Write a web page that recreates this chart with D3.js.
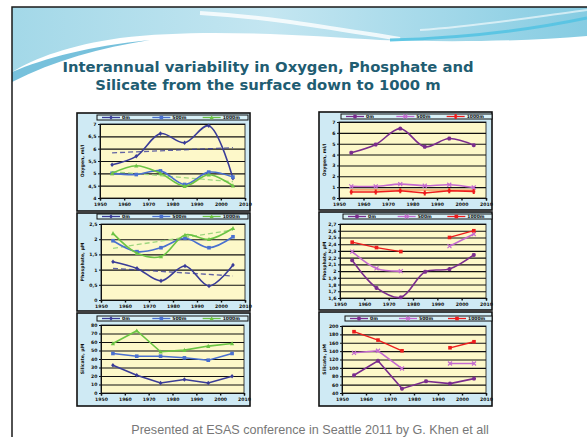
<!DOCTYPE html>
<html><head><meta charset="utf-8">
<script src="https://cdn.jsdelivr.net/npm/d3@7"></script>
<style>html,body{margin:0;padding:0;background:#fff;} svg{display:block}</style>
</head><body>
<svg id="c" width="587" height="437"></svg>
<script>
// ---------- DATA ----------
const years = [1955, 1965, 1975, 1985, 1995, 2005];
const trendYears = [1955, 2005];
const xTickYears = [1950, 1960, 1970, 1980, 1990, 2000, 2010];
const legendLeft = ["0m", "500m", "1000m"];
const legendRight = ["0m", "500m", "1000m"];

// Left column – Oxygen, ml/l
const oxyL0 = [5.35, 5.69, 6.61, 6.24, 6.93, 4.80];
const oxyL1 = [5.00, 4.95, 5.10, 4.55, 5.05, 4.85];
const oxyL2 = [5.00, 5.31, 5.00, 4.48, 4.94, 4.50];
const oxyL0Trend = [5.83, 6.04];
const oxyL2Trend = [5.07, 4.66];
const oxyLTicks = [4, 4.5, 5, 5.5, 6, 6.5, 7];

// Left column – Phosphate, µM
const phoL0 = [1.26, 1.04, 0.63, 1.12, 0.46, 1.15];
const phoL1 = [1.95, 1.59, 1.72, 2.03, 1.72, 2.08];
const phoL2 = [2.19, 1.54, 1.43, 2.14, 2.00, 2.36];
const phoL0Trend = [1.04, 0.79];
const phoL2Trend = [1.70, 2.30];
const phoLTicks = [0, 0.5, 1, 1.5, 2, 2.5];

// Left column – Silicate, µM
const silL0 = [32.7, 20.9, 11.8, 15.8, 11.8, 19.7];
const silL1 = [46.5, 43.3, 43.3, 41.4, 38.6, 46.5];
const silL2 = [58.3, 73.3, 48.5, 50.4, 55.2, 58.3];
const silLTicks = [0, 10, 20, 30, 40, 50, 60, 70, 80];

// Right column – Oxygen, ml/l
const oxyR0 = [4.17, 4.93, 6.39, 4.72, 5.48, 4.87];
const oxyR1 = [1.07, 1.07, 1.28, 1.13, 1.22, 0.97];
const oxyR2 = [0.55, 0.55, 0.67, 0.46, 0.67, 0.61];
const oxyR2Trend = [0.74, 0.72];
const oxyRTicks = [0, 1, 2, 3, 4, 5, 6, 7];

// Right column – Phosphate, µM
const phoR0 = [2.16, 1.75, 1.61, 1.99, 2.03, 2.24];
const phoR1 = [2.29, 2.04, 2.00, null, 2.37, 2.55];
const phoR2 = [2.43, 2.35, 2.29, null, 2.50, 2.60];
const phoRTicks = [1.6, 1.7, 1.8, 1.9, 2.0, 2.1, 2.2, 2.3, 2.4, 2.5, 2.6, 2.7];

// Right column – Silicate, µM
const silR0 = [82.4, 116.8, 50.4, 68.0, 62.4, 74.4];
const silR1 = [136.0, 140.8, 98.4, null, 110.4, 110.4];
const silR2 = [186.4, 166.4, 140.8, null, 148.0, 162.4];
const silRTicks = [40, 60, 80, 100, 120, 140, 160, 180, 200];

const titleLines = ["Interannual variability in Oxygen, Phosphate and", "Silicate from the surface down to 1000 m"];
const footer = "Presented at ESAS conference in Seattle 2011 by G. Khen et all";

// ---------- STYLE ----------
const C = {navy:"#3a3c98", blue:"#4a70d0", green:"#6cc444", purple:"#7b2c8e", orchid:"#c46ad0", red:"#ee1c1c", orange:"#f39050"};
const fmt = v => String(+v.toFixed(2)).replace(".", ",");

const svg = d3.select("#c");

// ---------- BACKGROUND ----------
const defs = svg.append("defs");
const g1 = defs.append("linearGradient").attr("id","sky").attr("x1",0).attr("x2",1).attr("y1",0).attr("y2",0);
g1.append("stop").attr("offset","0%").attr("stop-color","#a3d8e8");
g1.append("stop").attr("offset","45%").attr("stop-color","#c4e6f1");
g1.append("stop").attr("offset","100%").attr("stop-color","#86cce2");
svg.append("rect").attr("width",587).attr("height",437).attr("fill","#fff");
svg.append("path").attr("fill","url(#sky)")
  .attr("d","M12,7 H587 V36 C520,42 440,42 380,40 C300,35 200,28 120,38 C70,45 35,58 12,72 Z");
svg.append("path").attr("fill","#5fb6d6").attr("opacity",0.85)
  .attr("d","M12,72 C45,58 90,46 150,40 C100,48 55,60 12,82 Z");
svg.append("path").attr("fill","none").attr("stroke","#ffffff").attr("stroke-width",4).attr("opacity",0.8)
  .attr("d","M200,13 C270,17 330,28 400,39");
svg.append("path").attr("fill","none").attr("stroke","#55c3e2").attr("stroke-width",3).attr("opacity",0.9)
  .attr("d","M390,40 C470,38 530,30 587,18");
svg.append("path").attr("fill","none").attr("stroke","#ffffff").attr("stroke-width",2).attr("opacity",0.6)
  .attr("d","M420,30 C480,26 540,16 587,10");
svg.append("rect").attr("x",12).attr("y",7).attr("width",600).attr("height",440)
  .attr("fill","none").attr("stroke","#1a1a1a").attr("stroke-width",1.5);

// Title
svg.selectAll("text.title").data(titleLines).join("text").attr("class","title")
  .attr("x",268).attr("y",(d,i)=>72+i*18).attr("text-anchor","middle")
  .attr("font-family","DejaVu Sans, sans-serif").attr("font-weight","bold").attr("font-size",14.8)
  .attr("fill","#1f5d72").text(d=>d);

svg.append("text").attr("x",310).attr("y",434).attr("text-anchor","middle")
  .attr("font-family","Liberation Sans, Arial, sans-serif").attr("font-size",12.6).attr("fill","#777").text(footer);

// ---------- PANELS ----------
function marker(g, type, x, y, color){
  const s = 1.8;
  if(type==="diamond") g.append("path").attr("d",`M${x},${y-s-0.5}L${x+s},${y}L${x},${y+s+0.5}L${x-s},${y}Z`).attr("fill",color);
  else if(type==="square") g.append("rect").attr("x",x-s).attr("y",y-s).attr("width",2*s).attr("height",2*s).attr("fill",color);
  else if(type==="triangle") g.append("path").attr("d",`M${x},${y-s-0.5}L${x+s+0.3},${y+s}L${x-s-0.3},${y+s}Z`).attr("fill",color);
  else if(type==="star") g.append("path").attr("d",`M${x-2},${y}H${x+2}M${x},${y-2}V${y+2}M${x-1.5},${y-1.5}L${x+1.5},${y+1.5}M${x+1.5},${y-1.5}L${x-1.5},${y+1.5}`).attr("stroke",color).attr("stroke-width",1.2);
  else if(type==="x") g.append("path").attr("d",`M${x-2},${y-2}L${x+2},${y+2}M${x+2},${y-2}L${x-2},${y+2}`).attr("stroke",color).attr("stroke-width",1.2);
  else if(type==="plus") g.append("path").attr("d",`M${x},${y-2.5}V${y+2.5}M${x-1.5},${y}H${x+1.5}`).attr("stroke",color).attr("stroke-width",2);
}

function panel(cfg){
  const g = svg.append("g");
  const [bx0,by0,bx1,by1] = cfg.box;
  g.append("rect").attr("x",bx0).attr("y",by0).attr("width",bx1-bx0).attr("height",by1-by0)
    .attr("fill","#cfeaf4").attr("stroke","#111").attr("stroke-width",1.6);
  const [lx0,ly0,lx1,ly1] = cfg.legend;
  g.append("rect").attr("x",lx0).attr("y",ly0).attr("width",lx1-lx0).attr("height",ly1-ly0)
    .attr("fill","#d8f0f7").attr("stroke","#111").attr("stroke-width",1);
  const lw = (lx1-lx0)/3;
  cfg.series.forEach((s,i)=>{
    const cx = lx0 + 5 + i*lw, cy = (ly0+ly1)/2;
    g.append("line").attr("x1",cx).attr("x2",cx+18).attr("y1",cy).attr("y2",cy).attr("stroke",s.color).attr("stroke-width",1.3);
    marker(g, s.marker, cx+9, cy, s.color);
    g.append("text").attr("x",cx+20).attr("y",cy+1.6).attr("font-size",4.5).attr("font-family","DejaVu Sans, sans-serif")
      .attr("font-weight","bold").attr("fill","#111").text(s.name);
  });
  const [px0,py0,px1,py1] = cfg.plot;
  const x = d3.scaleLinear().domain([1950,2010]).range([px0,px1]);
  const y = d3.scaleLinear().domain(d3.extent(cfg.ticks)).range([py1,py0]);
  g.append("rect").attr("x",px0).attr("y",py0).attr("width",px1-px0).attr("height",py1-py0)
    .attr("fill","#fdf8c9").attr("stroke","#111").attr("stroke-width",0.8);
  g.append("g").attr("transform",`translate(${px0},0)`)
    .call(d3.axisLeft(y).tickValues(cfg.ticks).tickSize(-(px1-px0)).tickFormat(""))
    .call(a=>a.select(".domain").remove())
    .call(a=>a.selectAll("line").attr("stroke","#111").attr("stroke-width",1.1));
  const ya = g.append("g").attr("transform",`translate(${px0},0)`)
    .call(d3.axisLeft(y).tickValues(cfg.ticks).tickSize(2).tickPadding(1.5).tickFormat(fmt));
  ya.selectAll("text").attr("font-size",4.6).attr("font-family","DejaVu Sans, sans-serif").attr("font-weight","bold").attr("fill","#111");
  ya.selectAll("line,path").attr("stroke","#111");
  const xa = g.append("g").attr("transform",`translate(0,${py1})`)
    .call(d3.axisBottom(x).tickValues(xTickYears).tickSize(2.5).tickPadding(2).tickFormat(d3.format("d")));
  xa.selectAll("text").attr("font-size",4.6).attr("font-family","DejaVu Sans, sans-serif").attr("font-weight","bold").attr("fill","#111");
  xa.selectAll("line").attr("stroke","#111").attr("stroke-width",1.4);
  xa.select(".domain").attr("stroke","#111").attr("stroke-width",1.2);
  g.append("text").attr("transform",`translate(${cfg.ylabX},${(py0+py1)/2}) rotate(-90)`)
    .attr("text-anchor","middle").attr("font-size",4.6).attr("font-family","DejaVu Sans, sans-serif")
    .attr("font-weight","bold").attr("fill","#111").text(cfg.ylabel);
  (cfg.trends||[]).forEach(t=>{
    const line = d3.line().x((d,i)=>x(trendYears[i])).y(d=>y(d));
    g.append("path").attr("d",line(t.values)).attr("fill","none").attr("stroke",t.color)
      .attr("stroke-width",1.3).attr("stroke-dasharray",t.dash||"5,3").attr("opacity",t.opacity||1);
  });
  cfg.series.forEach(s=>{
    const line = d3.line().defined(d=>d!=null).x((d,i)=>x(years[i])).y(d=>y(d))
      .curve(s.smooth ? d3.curveCatmullRom.alpha(0.5) : d3.curveLinear);
    g.append("path").attr("d",line(s.values)).attr("fill","none").attr("stroke",s.color).attr("stroke-width",s.width||1.6);
    s.values.forEach((v,i)=>{ if(v!=null) marker(g, s.marker, x(years[i]), y(v), s.color); });
  });
}

panel({box:[77,113,250,211], legend:[97,115,248,120], plot:[100,124,245,198], ticks:oxyLTicks, ylabX:84, ylabel:"Oxygen, ml/l",
  trends:[{values:oxyL0Trend,color:C.navy,opacity:0.8},{values:oxyL2Trend,color:"#9ed67e"}],
  series:[{name:legendLeft[0],values:oxyL0,color:C.navy,marker:"diamond",smooth:true},
          {name:legendLeft[1],values:oxyL1,color:C.blue,marker:"square",smooth:true},
          {name:legendLeft[2],values:oxyL2,color:C.green,marker:"triangle",smooth:true}]});
panel({box:[77,213,250,311], legend:[97,214,248,219], plot:[101,224,245,300], ticks:phoLTicks, ylabX:84, ylabel:"Phosphate, µM",
  trends:[{values:phoL0Trend,color:C.navy,opacity:0.8},{values:phoL2Trend,color:"#9ed67e"}],
  series:[{name:legendLeft[0],values:phoL0,color:C.navy,marker:"diamond",smooth:true},
          {name:legendLeft[1],values:phoL1,color:C.blue,marker:"square",smooth:true},
          {name:legendLeft[2],values:phoL2,color:C.green,marker:"triangle",smooth:true}]});
panel({box:[77,313,250,406], legend:[97,316,248,321], plot:[101,325,244,393], ticks:silLTicks, ylabX:84, ylabel:"Silicate, µM",
  series:[{name:legendLeft[0],values:silL0,color:C.navy,marker:"diamond"},
          {name:legendLeft[1],values:silL1,color:C.blue,marker:"square"},
          {name:legendLeft[2],values:silL2,color:C.green,marker:"triangle"}]});

panel({box:[319,112,492,210], legend:[341,114,492,119], plot:[339,122,486,198], ticks:oxyRTicks, ylabX:326, ylabel:"Oxygen, ml/l",
  trends:[{values:oxyR2Trend,color:C.orange,dash:"none"}],
  series:[{name:legendRight[0],values:oxyR0,color:C.purple,marker:"star",smooth:true},
          {name:legendRight[1],values:oxyR1,color:C.orchid,marker:"x",smooth:true},
          {name:legendRight[2],values:oxyR2,color:C.red,marker:"plus"}]});
panel({box:[319,212,492,310], legend:[343,214,492,219], plot:[340,224,486,298], ticks:phoRTicks, ylabX:326, ylabel:"Phosphate, µM",
  series:[{name:legendRight[0],values:phoR0,color:C.purple,marker:"star",smooth:true},
          {name:legendRight[1],values:phoR1,color:C.orchid,marker:"x",smooth:true},
          {name:legendRight[2],values:phoR2,color:C.red,marker:"square",width:1.3}]});
panel({box:[319,312,492,406], legend:[345,316,492,321], plot:[342,326,486,393], ticks:silRTicks, ylabX:326, ylabel:"Silicate, µM",
  series:[{name:legendRight[0],values:silR0,color:C.purple,marker:"star"},
          {name:legendRight[1],values:silR1,color:C.orchid,marker:"x"},
          {name:legendRight[2],values:silR2,color:C.red,marker:"square",width:1.3}]});
</script>
</body></html>
